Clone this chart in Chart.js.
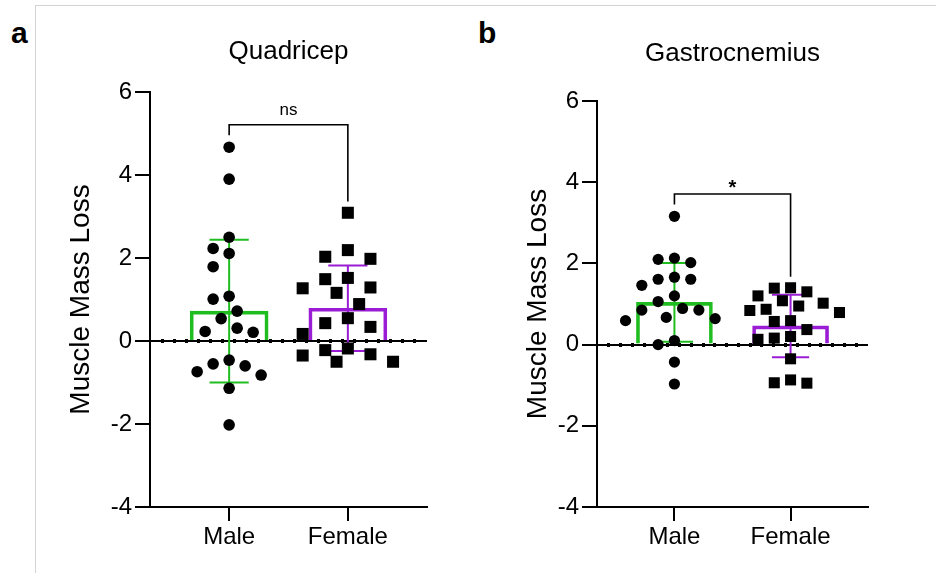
<!DOCTYPE html>
<html><head><meta charset="utf-8">
<script src="https://cdn.jsdelivr.net/npm/chart.js@4.4.1/dist/chart.umd.min.js"></script>
<style>
html,body{margin:0;padding:0;background:#fff;}
body{width:936px;height:573px;position:relative;overflow:hidden;font-family:'Liberation Sans',Arial,sans-serif;}
#frame{position:absolute;left:35px;top:5px;width:901px;height:568px;border-left:1px solid #d3d3d3;border-top:1px solid #d3d3d3;}
.panel{position:absolute;top:0;width:468px;height:573px;}
.lbl{position:absolute;font-weight:bold;font-size:30px;line-height:1;color:#000;}
</style></head><body>
<div id="frame"></div>
<div class="lbl" style="left:11px;top:18px">a</div>
<div class="lbl" style="left:478px;top:18px">b</div>
<div class="panel" style="left:0"><canvas id="cA" width="468" height="573"></canvas></div>
<div class="panel" style="left:468px"><canvas id="cB" width="468" height="573"></canvas></div>
<script>
// ---------------- data ----------------
const categories = ['Male', 'Female'];
const yTicks = [-4, -2, 0, 2, 4, 6];
const yTitle = 'Muscle Mass Loss';

const quadTitle = 'Quadricep';
const quadMale = [4.67, 3.90, 2.50, 2.23, 2.11, 1.79, 1.08, 1.01, 0.72, 0.54, 0.31, 0.23, 0.21, -0.46, -0.55, -0.60, -0.74, -0.82, -1.14, -2.02];
const quadFemale = [3.09, 2.19, 2.03, 1.98, 1.52, 1.49, 1.29, 1.27, 1.16, 0.89, 0.55, 0.43, 0.34, 0.17, -0.18, -0.22, -0.32, -0.35, -0.50, -0.50];
const quadMean = [0.72, 0.79];
const quadSD = [1.72, 1.03];
const quadBracket = [4.96, 5.21, 5.21, 3.36]; // left leg end, top, top, right leg end
const quadSig = 'ns';

const gastroTitle = 'Gastrocnemius';
const gastroMale = [3.16, 2.13, 2.10, 2.02, 1.66, 1.61, 1.61, 1.46, 1.20, 1.06, 0.89, 0.85, 0.85, 0.67, 0.64, 0.59, 0.10, 0.00, -0.43, -0.97];
const gastroFemale = [1.40, 1.39, 1.30, 1.20, 1.08, 1.02, 0.95, 0.87, 0.84, 0.79, 0.59, 0.57, 0.37, 0.20, 0.16, 0.13, -0.35, -0.87, -0.94, -0.95];
const gastroMean = [1.04, 0.46];
const gastroSD = [0.97, 0.77];
const gastroBracket = [3.45, 3.71, 3.71, 1.67];
const gastroSig = '*';

// ---------------- style ----------------
const FONT = "'Liberation Sans', Arial, sans-serif";
const GREEN = '#1fbd1f';
const PURPLE = '#9a1cd4';

const textPlugin = {
  id: 'panelTexts',
  afterDraw(chart, args, o) {
    const {ctx, chartArea, scales} = chart;
    ctx.save();
    ctx.fillStyle = '#000';
    ctx.textAlign = 'center';
    ctx.textBaseline = 'alphabetic';
    ctx.font = '26px ' + FONT;
    ctx.fillText(o.title, (chartArea.left + chartArea.right) / 2, o.titleY);
    ctx.font = o.sigFont;
    const x = scales.x.getPixelForValue(1.5);
    const y = scales.y.getPixelForValue(o.bracketTop) - o.sigGap;
    ctx.fillText(o.sig, x, y);
    ctx.restore();
  }
};

function buildChart(id, p) {
  const groups = [p.male, p.female];
  const colors = [GREEN, PURPLE];
  const shapes = ['circle', 'rect'];
  const datasets = [];
  // mean bars (open)
  datasets.push({
    type: 'bar', xAxisID: 'x', yAxisID: 'y', order: 5,
    data: p.mean.map((m, i) => ({x: i + 1, y: m})),
    backgroundColor: 'rgba(0,0,0,0)', borderColor: colors,
    borderWidth: 3, borderSkipped: 'start', barThickness: p.barPx
  });
  // error bars
  const cap = p.capHalf;
  p.mean.forEach((m, i) => {
    const c = i + 1, lo = m - p.sd[i], hi = m + p.sd[i];
    [[{x: c, y: lo}, {x: c, y: hi}], [{x: c - cap, y: hi}, {x: c + cap, y: hi}], [{x: c - cap, y: lo}, {x: c + cap, y: lo}]]
      .forEach(seg => datasets.push({
        type: 'line', xAxisID: 'x', yAxisID: 'y', order: 4, data: seg,
        borderColor: colors[i], borderWidth: 2, pointRadius: 0, fill: false
      }));
  });
  // bracket
  datasets.push({
    type: 'line', xAxisID: 'x', yAxisID: 'y', order: 3,
    data: [{x: 1, y: p.bracket[0]}, {x: 1, y: p.bracket[1]}, {x: 2, y: p.bracket[2]}, {x: 2, y: p.bracket[3]}],
    borderColor: '#000', borderWidth: 1.6, pointRadius: 0, fill: false, borderJoinStyle: 'miter'
  });
  // points
  groups.forEach((g, i) => datasets.push({
    type: 'scatter', xAxisID: 'x', yAxisID: 'y', order: 0,
    data: g.map(v => ({x: i + 1, y: v})),
    pointStyle: shapes[i], pointRadius: p.radius[i], pointHoverRadius: p.radius[i],
    backgroundColor: '#000', borderColor: '#000', borderWidth: 0
  }));

  const chart = new Chart(document.getElementById(id), {
    data: {datasets},
    plugins: [textPlugin],
    options: {
      responsive: false, animation: false, events: [],
      layout: {padding: p.padding},
      plugins: {
        legend: {display: false}, tooltip: {enabled: false},
        panelTexts: {title: p.title, titleY: p.titleY, sig: p.sig, sigFont: p.sigFont, sigGap: p.sigGap, bracketTop: p.bracket[1]}
      },
      scales: {
        x: {
          type: 'linear', position: 'bottom', min: 1 / 3, max: 8 / 3, offset: false,
          afterBuildTicks: s => { s.ticks = categories.map((c, i) => ({value: i + 1})); },
          afterFit: s => { s.height = 66; },
          ticks: {callback: (v, i) => categories[i], color: '#000', font: {family: FONT, size: 24}, padding: 2, maxRotation: 0, autoSkip: false},
          grid: {offset: false, drawOnChartArea: false, drawTicks: true, tickLength: 14, color: '#000', lineWidth: 2},
          border: {display: true, color: '#000', width: 2}
        },
        x2: {
          type: 'linear', position: {y: 0.04}, min: 0, max: 23, offset: false,
          ticks: {display: false, stepSize: 1},
          grid: {offset: false, drawOnChartArea: false, drawTicks: true, tickLength: 4, tickWidth: 3,
                 tickColor: c => (c.index === 0 || c.tick.value >= 23) ? 'rgba(0,0,0,0)' : '#000'},
          border: {display: false}
        },
        y: {
          type: 'linear', position: 'left', min: -4, max: 6,
          afterBuildTicks: s => { s.ticks = yTicks.map(v => ({value: v})); },
          afterFit: s => { s.width = p.yWidth; },
          ticks: {color: '#000', font: {family: FONT, size: 24}, padding: 3},
          grid: {drawOnChartArea: true, drawTicks: true, tickLength: 15,
                 color: c => (c.tick && c.tick.value === 0) ? '#000' : 'rgba(0,0,0,0)',
                 tickColor: '#000', lineWidth: 2, tickWidth: 2},
          border: {display: true, color: '#000', width: 2},
          title: {display: true, text: yTitle, color: '#000', font: {family: FONT, size: 28}, padding: {top: p.yTitlePad, bottom: 0}}
        }
      }
    }
  });

  // beeswarm layout of points, computed from values and marker size
  groups.forEach((g, i) => {
    const dsIndex = datasets.length - 2 + i;
    const xs = chart.scales.x, ys = chart.scales.y;
    const pxPerX = xs.getPixelForValue(2) - xs.getPixelForValue(1);
    const order = g.map((v, k) => k).sort((a, b) => g[b] - g[a]);
    const placed = [];
    const off = new Array(g.length).fill(0);
    const d = p.gap[i];
    const step = p.step[i];
    order.forEach(k => {
      const py = ys.getPixelForValue(g[k]);
      for (let n = 0; n < 60; n++) {
        const cand = n === 0 ? 0 : (n % 2 ? -1 : 1) * Math.ceil(n / 2) * step;
        if (placed.every(q => Math.hypot(q.x - cand, q.y - py) >= d)) {
          off[k] = cand; placed.push({x: cand, y: py}); break;
        }
      }
    });
    chart.data.datasets[dsIndex].data = g.map((v, k) => ({x: i + 1 + off[k] / pxPerX, y: v}));
  });
  chart.update('none');
  return chart;
}

buildChart('cA', {
  title: quadTitle, titleY: 59, male: quadMale, female: quadFemale, mean: quadMean, sd: quadSD,
  bracket: quadBracket, sig: quadSig, sigFont: '17px ' + FONT, sigGap: 10,
  padding: {left: 0, top: 92, right: 41, bottom: 0}, yWidth: 150, yTitlePad: 64,
  barPx: 78, capHalf: 0.165, radius: [5.8, 8.5], gap: [16, 16], step: [8, 11.3]
});
buildChart('cB', {
  title: gastroTitle, titleY: 61, male: gastroMale, female: gastroFemale, mean: gastroMean, sd: gastroSD,
  bracket: gastroBracket, sig: gastroSig, sigFont: 'bold 20px ' + FONT, sigGap: 0,
  padding: {left: 0, top: 101, right: 68, bottom: 0}, yWidth: 129, yTitlePad: 53,
  barPx: 76, capHalf: 0.16, radius: [5.6, 7.8], gap: [14, 14], step: [8.15, 8.15]
});
</script>
</body></html>
